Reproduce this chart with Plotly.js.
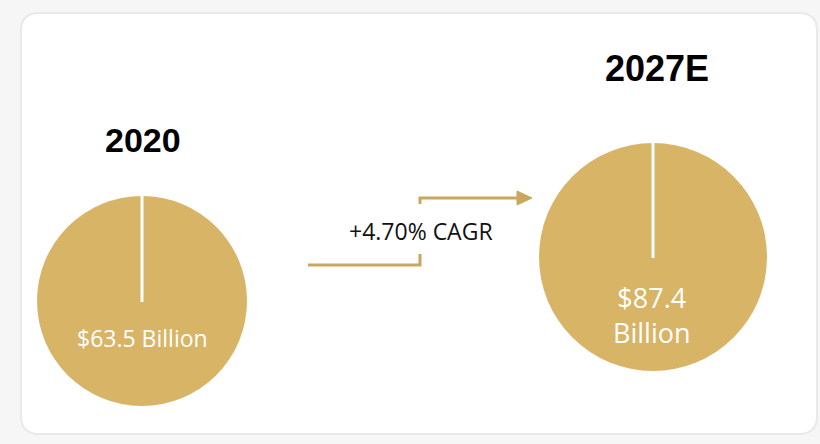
<!DOCTYPE html>
<html>
<head>
<meta charset="utf-8">
<script src="https://cdn.plot.ly/plotly-3.0.1.min.js"></script>
<style>html,body{margin:0;padding:0;background:#f6f6f6;}#chart{width:820px;height:444px;}</style>
</head>
<body>
<div id="chart"></div>
<script>
// ---- data ----
var years = ['2020', '2027E'];
var marketValues = [63.5, 87.4];
var valueLabels = ['$63.5 Billion', '$87.4<br>Billion'];
var cagrLabel = '+4.70% CAGR';

// ---- layout helpers (pixel -> paper) ----
var W = 820, H = 444;
function px(x) { return x / W; }
function py(y) { return 1 - y / H; }
function pt(x, y) { return px(x) + ',' + py(y); }

var gold = '#D8B467';
var arrowGold = '#C9A75E';

// pie boxes in pixels: [x0, y0, x1, y1]
var pieBoxes = [[37, 196, 247, 406], [539, 143, 767, 371]];
var titlePos = [[143, 140], [657, 68]];
var labelPos = [[142, 338], [652, 315]];
var labelSize = [23, 27];
var titleSize = [34, 36];

var traces = years.map(function (yr, i) {
  var b = pieBoxes[i];
  return {
    type: 'pie',
    values: [marketValues[i]],
    labels: [yr],
    marker: { colors: [gold], line: { width: 0 } },
    textinfo: 'none',
    sort: false,
    showlegend: false,
    hoverinfo: 'label+value',
    domain: { x: [px(b[0]), px(b[2])], y: [py(b[3]), py(b[1])] }
  };
});

// rounded card
function roundRect(x0, y0, x1, y1, r) {
  return 'M' + pt(x0 + r, y0) + ' L' + pt(x1 - r, y0) +
    ' Q' + pt(x1, y0) + ' ' + pt(x1, y0 + r) +
    ' L' + pt(x1, y1 - r) + ' Q' + pt(x1, y1) + ' ' + pt(x1 - r, y1) +
    ' L' + pt(x0 + r, y1) + ' Q' + pt(x0, y1) + ' ' + pt(x0, y1 - r) +
    ' L' + pt(x0, y0 + r) + ' Q' + pt(x0, y0) + ' ' + pt(x0 + r, y0) + ' Z';
}

var shapes = [
  { type: 'path', xref: 'paper', yref: 'paper', layer: 'below',
    path: roundRect(21, 13, 817, 434, 18),
    fillcolor: '#ffffff', line: { color: '#e9e9e9', width: 2 } },
  // arrow lower part
  { type: 'path', xref: 'paper', yref: 'paper',
    path: 'M' + pt(308, 265) + ' L' + pt(420, 265) + ' L' + pt(420, 254),
    line: { color: arrowGold, width: 3 } },
  // arrow upper part
  { type: 'path', xref: 'paper', yref: 'paper',
    path: 'M' + pt(420, 204) + ' L' + pt(420, 198) + ' L' + pt(519, 198),
    line: { color: arrowGold, width: 3 } },
  { type: 'path', xref: 'paper', yref: 'paper',
    path: 'M' + pt(517, 191) + ' L' + pt(532, 198) + ' L' + pt(517, 205) + ' Z',
    fillcolor: arrowGold, line: { color: arrowGold, width: 1 } }
];

// white radial lines from top of each pie to its centre
pieBoxes.forEach(function (b) {
  var cx = (b[0] + b[2]) / 2, cy = (b[1] + b[3]) / 2;
  shapes.push({ type: 'line', xref: 'paper', yref: 'paper',
    x0: px(cx), x1: px(cx), y0: py(b[1]), y1: py(cy + 1),
    line: { color: '#ffffff', width: 3 } });
});

var annotations = [];
years.forEach(function (yr, i) {
  annotations.push({ xref: 'paper', yref: 'paper', x: px(titlePos[i][0]), y: py(titlePos[i][1]),
    text: '<b>' + yr + '</b>', showarrow: false, xanchor: 'center', yanchor: 'middle',
    font: { family: 'Liberation Sans, Arial, sans-serif', size: titleSize[i], color: '#000000' } });
  annotations.push({ xref: 'paper', yref: 'paper', x: px(labelPos[i][0]), y: py(labelPos[i][1]),
    text: valueLabels[i], showarrow: false, xanchor: 'center', yanchor: 'middle',
    font: { family: 'Open Sans, Noto Sans, sans-serif', size: labelSize[i], color: '#ffffff' } });
});
annotations.push({ xref: 'paper', yref: 'paper', x: px(421), y: py(231),
  text: cagrLabel, showarrow: false, xanchor: 'center', yanchor: 'middle',
  font: { family: 'Open Sans, Noto Sans, sans-serif', size: 23, color: '#111111' } });

var layout = {
  width: W, height: H,
  margin: { l: 0, r: 0, t: 0, b: 0 },
  paper_bgcolor: '#f6f6f6',
  plot_bgcolor: '#f6f6f6',
  showlegend: false,
  shapes: shapes,
  annotations: annotations
};

Plotly.newPlot('chart', traces, layout, { displayModeBar: false, staticPlot: true });
</script>
</body>
</html>
